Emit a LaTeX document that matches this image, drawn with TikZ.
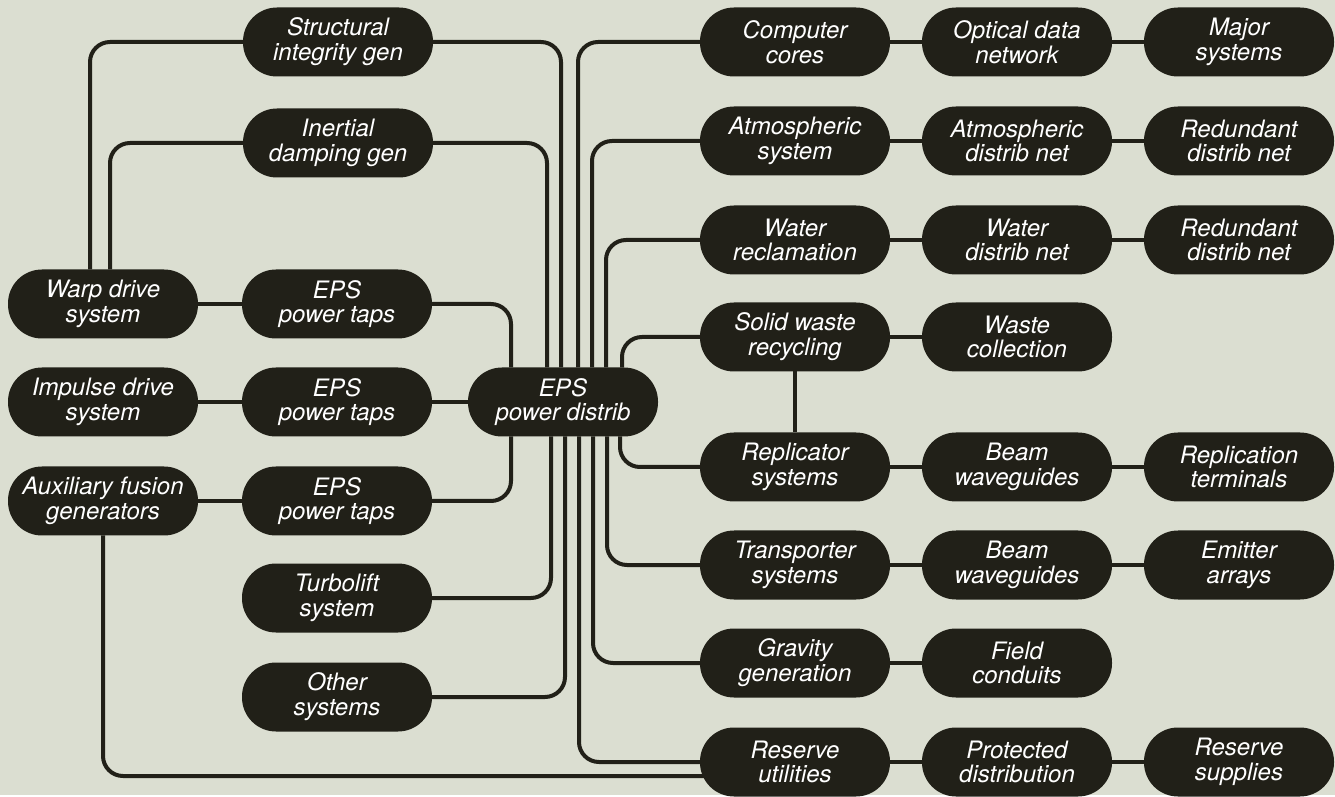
\documentclass[tikz,border=0pt]{standalone}
\usepackage{fontspec}
\setmainfont{TeX Gyre Heros}
\usetikzlibrary{shapes,positioning}

\definecolor{paper}{RGB}{219,222,209}
\definecolor{ink}{RGB}{33,32,24}

\begin{document}
\begin{tikzpicture}[x=0.5pt,y=-0.5pt,node distance=111pt,line width=2pt]
\tikzstyle{sys}=[fill=ink,text=white,rounded corners=17pt,minimum width=95pt,minimum height=34.5pt,inner sep=2pt,outer sep=0pt,align=center,font=\fontsize{12pt}{12.4pt}\selectfont\itshape]
\tikzstyle{wire}=[draw=ink,rounded corners=10pt]
\fill[paper] (0,0) rectangle (1335,795);

% generators and power taps
\node [sys] (sig) at (338,42) {Structural\\integrity gen};
\node [sys] (idg) at (338,143) {Inertial\\damping gen};
\node [sys] (warp) at (103,304) {Warp drive\\system};
\node [sys] (tapa) at (337,304) {EPS\\power taps};
\node [sys] (impulse) at (103,402) {Impulse drive\\system};
\node [sys] (tapb) at (337,402) {EPS\\power taps};
\node [sys] (aux) at (103,501) {Auxiliary fusion\\generators};
\node [sys] (tapc) at (337,501) {EPS\\power taps};
\node [sys] (turbo) at (337,598) {Turbolift\\system};
\node [sys] (other) at (337,697) {Other\\systems};
\node [sys] (eps) at (563,402) {EPS\\power distrib};

% consumers
\node [sys] (comp) at (795,42) {Computer\\cores};
\node [sys,right of=comp] (odn) {Optical data\\network};
\node [sys,right of=odn] (major) {Major\\systems};
\node [sys] (atm) at (795,141) {Atmospheric\\system};
\node [sys,right of=atm] (atmnet) {Atmospheric\\distrib net};
\node [sys,right of=atmnet] (atmred) {Redundant\\distrib net};
\node [sys] (wat) at (795,240) {Water\\reclamation};
\node [sys,right of=wat] (watnet) {Water\\distrib net};
\node [sys,right of=watnet] (watred) {Redundant\\distrib net};
\node [sys] (solid) at (795,337) {Solid waste\\recycling};
\node [sys,right of=solid] (waste) {Waste\\collection};
\node [sys] (repl) at (795,467) {Replicator\\systems};
\node [sys,right of=repl] (rbeam) {Beam\\waveguides};
\node [sys,right of=rbeam] (rterm) {Replication\\terminals};
\node [sys] (trans) at (795,565) {Transporter\\systems};
\node [sys,right of=trans] (tbeam) {Beam\\waveguides};
\node [sys,right of=tbeam] (emit) {Emitter\\arrays};
\node [sys] (grav) at (795,663) {Gravity\\generation};
\node [sys,right of=grav] (field) {Field\\conduits};
\node [sys] (res) at (795,762) {Reserve\\utilities};
\node [sys,right of=res] (prot) {Protected\\distribution};
\node [sys,right of=prot] (supp) {Reserve\\supplies};

\path[wire]
(warp) edge (tapa)
(impulse) edge (tapb)
(tapb) edge (eps)
(aux) edge (tapc)
(comp) edge (odn)
(odn) edge (major)
(atm) edge (atmnet)
(atmnet) edge (atmred)
(wat) edge (watnet)
(watnet) edge (watred)
(solid) edge (waste)
(solid) edge (repl)
(repl) edge (rbeam)
(rbeam) edge (rterm)
(trans) edge (tbeam)
(tbeam) edge (emit)
(grav) edge (field)
(res) edge (prot)
(prot) edge (supp);

% feeds into the distribution node
\draw[wire] ([xshift=-6.5pt]warp.north) |- (sig);
\draw[wire] ([xshift=3.5pt]warp.north) |- (idg);
\draw[wire] (sig) -| ([xshift=-1pt]eps.north);
\draw[wire] (idg) -| ([xshift=-8pt]eps.north);
\draw[wire] (tapa) -| ([xshift=-26pt]eps.north);
\draw[wire] (tapc) -| ([xshift=-26pt]eps.south);
\draw[wire] (turbo) -| ([xshift=-6pt]eps.south);
\draw[wire] (other) -| ([xshift=1pt]eps.south);
\draw[wire] ([xshift=7.5pt]eps.north) |- (comp);
\draw[wire] ([xshift=14.5pt]eps.north) |- (atm);
\draw[wire] ([xshift=21.5pt]eps.north) |- (wat);
\draw[wire] ([xshift=29.5pt]eps.north) |- (solid);
\draw[wire] ([xshift=28.5pt]eps.south) |- (repl);
\draw[wire] ([xshift=22pt]eps.south) |- (trans);
\draw[wire] ([xshift=15pt]eps.south) |- (grav);
\draw[wire] ([xshift=8pt]eps.south) |- (res);
\draw[wire] (aux) |- ([xshift=3pt,yshift=-7pt]res.west);
\end{tikzpicture}
\end{document}
